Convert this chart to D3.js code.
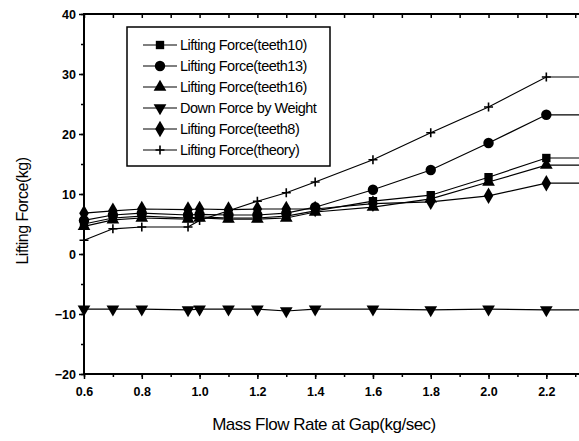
<!DOCTYPE html>
<html>
<head>
<meta charset="utf-8">
<script src="https://cdn.jsdelivr.net/npm/d3@7"></script>
<style>
  body { margin: 0; background: #fff; }
  text { font-family: "Liberation Sans", Arial, sans-serif; fill: #000; }
</style>
</head>
<body>
<svg id="chart" width="579" height="441"></svg>
<script>
// data
const flow = [0.6, 0.7, 0.8, 0.96, 1.0, 1.1, 1.2, 1.3, 1.4, 1.6, 1.8, 2.0, 2.2];
const teeth10 = [5.0, 6.0, 6.3, 6.0, 6.2, 6.0, 6.0, 6.3, 7.2, 8.8, 9.8, 12.8, 16.0];
const teeth13 = [5.6, 6.5, 6.8, 6.5, 6.6, 6.5, 6.5, 6.8, 7.8, 10.7, 14.0, 18.5, 23.2];
const teeth16 = [4.6, 5.7, 6.0, 5.8, 6.0, 5.8, 5.8, 6.0, 7.0, 7.8, 9.2, 12.0, 14.8];
const downForce = [-9.2, -9.2, -9.2, -9.3, -9.2, -9.2, -9.2, -9.5, -9.2, -9.2, -9.3, -9.2, -9.3];
const teeth8 = [6.8, 7.2, 7.5, 7.4, 7.5, 7.4, 7.5, 7.5, 7.5, 8.4, 8.7, 9.7, 11.8];
const theory = [2.3, 4.2, 4.5, 4.5, 5.6, 7.2, 8.8, 10.2, 12.0, 15.7, 20.2, 24.5, 29.5];
const seriesNames = ["Lifting Force(teeth10)", "Lifting Force(teeth13)", "Lifting Force(teeth16)",
  "Down Force by Weight", "Lifting Force(teeth8)", "Lifting Force(theory)"];
const xTicks = [0.6, 0.8, 1.0, 1.2, 1.4, 1.6, 1.8, 2.0, 2.2];
const yTicks = [-20, -10, 0, 10, 20, 30, 40];
const xEnd = 2.32;

const series = [
  {name: seriesNames[0], values: teeth10, sym: d3.symbolSquare, size: 70},
  {name: seriesNames[1], values: teeth13, sym: d3.symbolCircle, size: 85},
  {name: seriesNames[2], values: teeth16, sym: d3.symbolTriangle, size: 70},
  {name: seriesNames[3], values: downForce, sym: d3.symbolTriangle, size: 70, flip: true},
  {name: seriesNames[4], values: teeth8, sym: d3.symbolDiamond, size: 80},
  {name: seriesNames[5], values: theory, sym: "plus", size: 0}
];

const svg = d3.select("#chart");
const mLeft = 84, mRight = 581, mTop = 14, mBottom = 374;
const x = d3.scaleLinear().domain([0.6, xEnd]).range([mLeft, mRight]);
const y = d3.scaleLinear().domain([-20, 40]).range([mBottom, mTop]);

// frame + axes
svg.append("rect").attr("x", mLeft).attr("y", mTop)
  .attr("width", mRight - mLeft).attr("height", mBottom - mTop)
  .attr("fill", "none").attr("stroke", "#000").attr("stroke-width", 2);

const minorX = d3.range(0.6, xEnd, 0.1);
const minorY = d3.range(-20, 41, 5);

svg.append("g").attr("transform", "translate(0," + mBottom + ")")
  .call(d3.axisBottom(x).tickValues(xTicks).tickFormat(d3.format(".1f")).tickSize(5).tickPadding(8));
svg.append("g").attr("transform", "translate(0," + mBottom + ")")
  .call(d3.axisBottom(x).tickValues(minorX).tickFormat("").tickSize(3));
svg.append("g").attr("transform", "translate(0," + mTop + ")")
  .call(d3.axisBottom(x).tickValues(minorX).tickFormat("").tickSize(4));
svg.append("g").attr("transform", "translate(" + mLeft + ",0)")
  .call(d3.axisLeft(y).tickValues(yTicks).tickSize(5).tickPadding(3));
svg.append("g").attr("transform", "translate(" + mLeft + ",0)")
  .call(d3.axisLeft(y).tickValues(minorY).tickFormat("").tickSize(3));
svg.selectAll(".domain").remove();
svg.selectAll(".tick line").attr("stroke", "#000").attr("stroke-width", 1.5);
svg.selectAll(".tick text").attr("font-size", 12.5).attr("font-weight", "bold")
  .style("font-family", "'Liberation Sans', Arial, sans-serif");

// axis titles
svg.append("text").attr("x", 324).attr("y", 430).attr("text-anchor", "middle")
  .attr("font-size", 17).attr("letter-spacing", -0.5).text("Mass Flow Rate at Gap(kg/sec)");
svg.append("text").attr("transform", "translate(28,211) rotate(-90)").attr("text-anchor", "middle")
  .attr("font-size", 16).attr("letter-spacing", -0.5).text("Lifting Force(kg)");

function marker(g, s) {
  if (s.sym === "plus") {
    g.append("path").attr("d", "M-4.5,0H4.5M0,-4.5V4.5").attr("stroke", "#000").attr("stroke-width", 1.6);
  } else {
    g.append("path").attr("d", d3.symbol().type(s.sym).size(s.size)())
      .attr("transform", s.flip ? "rotate(180)" : null).attr("fill", "#000");
  }
}

const line = d3.line().x(d => x(d[0])).y(d => y(d[1]));
const plot = svg.append("g");
series.forEach(s => {
  const pts = flow.map((f, i) => [f, s.values[i]]);
  pts.push([xEnd, s.values[s.values.length - 1]]);
  plot.append("path").attr("d", line(pts)).attr("fill", "none")
    .attr("stroke", "#000").attr("stroke-width", 1.2);
  flow.forEach((f, i) => {
    marker(plot.append("g").attr("transform", "translate(" + x(f) + "," + y(s.values[i]) + ")"), s);
  });
});

// legend
const lg = svg.append("g");
lg.append("rect").attr("x", 127).attr("y", 27).attr("width", 203).attr("height", 139)
  .attr("fill", "#fff").attr("stroke", "#000").attr("stroke-width", 1.5);
series.forEach((s, i) => {
  const ly = 45 + i * 21;
  lg.append("line").attr("x1", 143).attr("x2", 177).attr("y1", ly).attr("y2", ly)
    .attr("stroke", "#000").attr("stroke-width", 1.2);
  marker(lg.append("g").attr("transform", "translate(160," + ly + ")"), s);
  lg.append("text").attr("x", 180).attr("y", ly + 5).attr("font-size", 14.5)
    .attr("letter-spacing", -0.5).text(s.name);
});
</script>
</body>
</html>
